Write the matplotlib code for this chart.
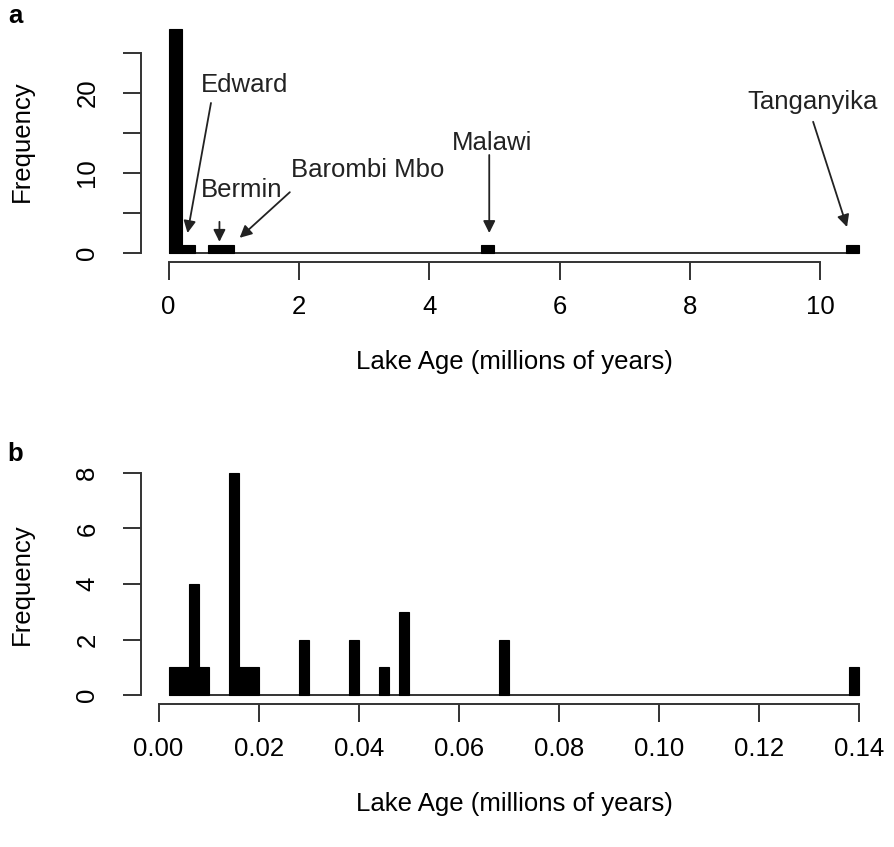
import matplotlib

matplotlib.use("Agg")
import matplotlib.pyplot as plt
import numpy as np

plt.rcParams["font.family"] = ["Liberation Sans", "DejaVu Sans"]

# panel a: histogram of lake ages, bins of 0.2 My (only non-empty bins listed)
a_bin_width = 0.2
a_range = (0.0, 10.6)
a_bin_left = [0.0, 0.2, 0.6, 0.8, 4.8, 10.4]
a_counts = [28, 1, 1, 1, 1, 1]
a_xticks = [0, 2, 4, 6, 8, 10]
a_yticks = [0, 5, 10, 15, 20, 25]
a_yticklabels = ["0", "", "10", "", "20", ""]

# lake labels: name, (text x, text y), (arrow tail x, y), (arrow head x, y)
lake_names = ["Edward", "Bermin", "Barombi Mbo", "Malawi", "Tanganyika"]
lake_text_xy = [(1.17, 21.0), (1.12, 7.9), (3.06, 10.4), (4.96, 13.75), (9.88, 18.9)]
lake_arrow_from = [(0.65, 18.75), (0.78, 3.9), (1.86, 7.6), (4.92, 12.25), (9.89, 16.4)]
lake_arrow_to = [(0.29, 2.5), (0.78, 1.4), (1.09, 1.9), (4.92, 2.5), (10.41, 3.25)]

# panel b: zoom on young lakes, bins of 0.002 My
b_bin_width = 0.002
b_range = (0.002, 0.140)
b_bin_left = [0.002, 0.004, 0.006, 0.008, 0.014, 0.016, 0.018,
              0.028, 0.038, 0.044, 0.048, 0.068, 0.138]
b_counts = [1, 1, 4, 1, 8, 1, 1, 2, 2, 1, 3, 2, 1]
b_xticks = [0.00, 0.02, 0.04, 0.06, 0.08, 0.10, 0.12, 0.14]
b_yticks = [0, 2, 4, 6, 8]

FS = 18.5
LINE_C = "#333333"


def _r_style_hist(ax, lefts, counts, width, data_range, xticks, yticks):
    ax.bar(lefts, counts, width=width, align="edge", color="black",
           edgecolor="black", linewidth=0.8, zorder=3)
    ax.hlines(0, data_range[0], data_range[1], color=LINE_C, linewidth=1.4, zorder=2)

    span = data_range[1] - data_range[0]
    ax.set_xlim(data_range[0] - 0.04 * span, data_range[1] + 0.04 * span)
    top = max(counts)
    ax.set_ylim(-0.04 * top, 1.04 * top)

    for side in ["top", "right"]:
        ax.spines[side].set_visible(False)
    for side in ["left", "bottom"]:
        ax.spines[side].set_color(LINE_C)
        ax.spines[side].set_linewidth(1.4)
    ax.spines["bottom"].set_bounds(xticks[0], xticks[-1])
    ax.spines["left"].set_bounds(yticks[0], yticks[-1])
    ax.set_xticks(xticks)
    ax.set_yticks(yticks)
    ax.tick_params(length=13, width=1.4, color=LINE_C, labelsize=FS)
    ax.tick_params(axis="x", pad=11)
    ax.tick_params(axis="y", pad=17, labelrotation=90)
    for lab in ax.get_yticklabels():
        lab.set_verticalalignment("center")
    ax.set_ylabel("Frequency", fontsize=FS, labelpad=30)
    ax.set_xlabel("Lake Age (millions of years)", fontsize=FS, labelpad=22)


fig = plt.figure(figsize=(8.94, 8.47), dpi=100)
ax_a = fig.add_axes([0.1577, 0.6907, 0.8345, 0.2857])
ax_b = fig.add_axes([0.1577, 0.1688, 0.8345, 0.2834])

_r_style_hist(ax_a, a_bin_left, a_counts, a_bin_width, a_range, a_xticks, a_yticks)
ax_a.set_yticklabels(a_yticklabels)
ax_a.set_xticklabels([str(t) for t in a_xticks])

for name, txy, p0, p1 in zip(lake_names, lake_text_xy, lake_arrow_from, lake_arrow_to):
    ax_a.text(txy[0], txy[1], name, fontsize=FS, ha="center", va="center", color="#222222")
    ax_a.annotate("", xy=p1, xytext=p0,
                  arrowprops=dict(arrowstyle="-|>", color="#222222", lw=1.3,
                                  mutation_scale=18, shrinkA=0, shrinkB=0))

_r_style_hist(ax_b, b_bin_left, b_counts, b_bin_width, b_range, b_xticks, b_yticks)
ax_b.set_xticklabels([f"{t:.2f}" for t in b_xticks])

fig.text(0.017, 0.981, "a", fontsize=FS, fontweight="bold", ha="center", va="center")
fig.text(0.017, 0.464, "b", fontsize=FS, fontweight="bold", ha="center", va="center")

fig.savefig("out.png", dpi=100)
